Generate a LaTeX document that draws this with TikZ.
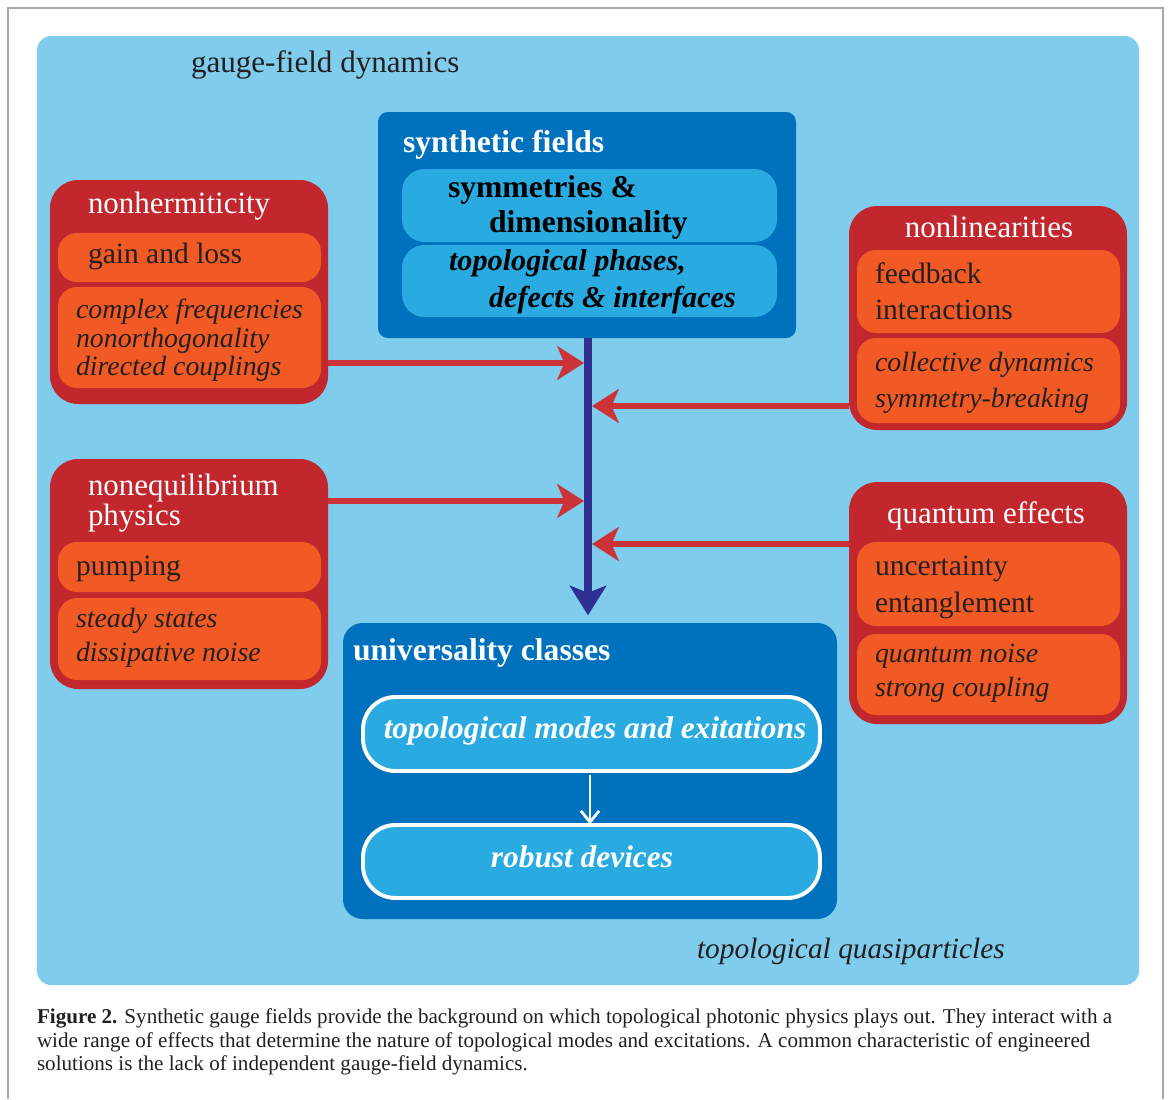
\documentclass[tikz,border=0pt]{standalone}
\usepackage{fontspec}
\setmainfont{Liberation Serif}
\usetikzlibrary{arrows.meta,fit}
\definecolor{panel}{HTML}{7FCCEC}
\definecolor{dblue}{HTML}{0071BC}
\definecolor{mblue}{HTML}{29ABE2}
\definecolor{rbox}{HTML}{C1272D}
\definecolor{obox}{HTML}{F15A24}
\definecolor{rarrow}{HTML}{CC3338}
\definecolor{navy}{HTML}{2E3192}
\definecolor{framegray}{HTML}{A8A8A8}
\definecolor{ink}{HTML}{231F20}
\begin{document}
\begin{tikzpicture}[x=0.025cm,y=-0.025cm,
  shapebox/.style={rectangle, inner sep=0pt, outer sep=0pt},
  panelbox/.style={shapebox, fill=panel, rounded corners=10pt},
  synframe/.style={shapebox, fill=dblue, rounded corners=7pt},
  ucframe/.style={shapebox, fill=dblue, rounded corners=14pt},
  synbox/.style={shapebox, fill=mblue, rounded corners=16pt},
  redbox/.style={shapebox, fill=rbox, rounded corners=20pt},
  orbox/.style={shapebox, fill=obox, rounded corners=13.5pt},
  pill/.style={shapebox, fill=mblue, draw=white, line width=2.8pt, rounded corners=23pt},
  txtbase/.style={inner sep=0pt, outer sep=0pt, anchor=base west},
  reg/.style={txtbase, text=ink, font=\fontsize{21}{25}\selectfont},
  ttl/.style={txtbase, text=white, font=\fontsize{22}{26}\selectfont},
  big/.style={txtbase, text=ink, font=\fontsize{22.1}{26}\selectfont},
  ita/.style={txtbase, text=ink, font=\fontsize{19.8}{24}\selectfont\itshape},
  bigita/.style={txtbase, text=ink, font=\fontsize{20.9}{25}\selectfont\itshape},
  bblk/.style={txtbase, text=black, font=\fontsize{22.5}{26}\selectfont\bfseries},
  biblk/.style={txtbase, text=black, font=\fontsize{21.5}{25}\selectfont\bfseries\itshape},
  bwhite/.style={bblk, text=white},
  biwhite/.style={txtbase, text=white, font=\fontsize{22.3}{26}\selectfont\bfseries\itshape},
  captxt/.style={txtbase, text=ink, font=\fontsize{15}{18}\selectfont},
  redarrow/.style={draw=rarrow, line width=4.8pt, -{Stealth[length=19pt,width=24pt,inset=5pt]}},
  navyarrow/.style={draw=navy, line width=5.7pt, -{Stealth[length=21pt,width=26pt,inset=5pt]}},
  whitearrow/.style={draw=white, line width=2pt, -{Straight Barb[length=8pt,width=13pt]}}
]
\useasboundingbox (0,0) rectangle (1168,1099);
\fill[white] (0,0) rectangle (1168,1099);
\draw[framegray, line width=1.3pt] (8,1099) -- (8,8) -- (1163,8) -- (1163,1099);

% boxes
\node[panelbox, fit={(37,36) (1139,985)}] (panel) {};
\node[synframe, fit={(378,112) (796,338)}] (syn) {};
\node[synbox, fit={(402,169) (777,242)}] (syn1) {};
\node[synbox, fit={(402,245) (777,317)}] (syn2) {};
\node[redbox, fit={(50,180) (328,404)}] (nh) {};
\node[orbox, fit={(58,233) (321,282)}] (nh1) {};
\node[orbox, fit={(58,287) (321,388)}] (nh2) {};
\node[redbox, fit={(849,206) (1127,430)}] (nl) {};
\node[orbox, fit={(857,250) (1120,333)}] (nl1) {};
\node[orbox, fit={(857,338) (1120,423)}] (nl2) {};
\node[redbox, fit={(50,459) (328,689)}] (ne) {};
\node[orbox, fit={(58,542) (321,592)}] (ne1) {};
\node[orbox, fit={(58,598) (321,680)}] (ne2) {};
\node[redbox, fit={(849,482) (1127,724)}] (qe) {};
\node[orbox, fit={(857,542) (1120,626)}] (qe1) {};
\node[orbox, fit={(857,634) (1120,715)}] (qe2) {};
\node[ucframe, fit={(343,623) (837,919)}] (uc) {};
\node[pill, fit={(363,697) (820,771)}] (uc1) {};
\node[pill, fit={(363,825) (820,898)}] (uc2) {};

% connectors
\coordinate (nx) at (588,0);
\coordinate (wx) at (590,0);
\coordinate (ja) at (584,363);
\coordinate (jb) at (592,406);
\coordinate (jc) at (584,501);
\coordinate (jd) at (592,544);
\draw[navyarrow, shorten >=5.5pt] (syn.south -| nx) -- (uc.north -| nx);
\draw[redarrow] (nh.east |- ja) -- (ja);
\draw[redarrow] (nl.west |- jb) -- (jb);
\draw[redarrow] (ne.east |- jc) -- (jc);
\draw[redarrow] (qe.west |- jd) -- (jd);
\draw[whitearrow, shorten <=2.5pt, shorten >=0.5pt] (uc1.south -| wx) -- (uc2.north -| wx);

% texts
\node[big] (tgd) at (191,72) {gauge-field dynamics};
\node[bwhite] (tsf) at (403,152) {synthetic fields};
\node[bblk] (ts1) at (448,197) {symmetries \&};
\node[bblk] (ts2) at (489,232) {dimensionality};
\node[biblk] (ts3) at (449,270) {topological phases,};
\node[biblk] (ts4) at (489,307) {defects \& interfaces};

\node[ttl] (tnh) at (88,213) {nonhermiticity};
\node[reg] (tnh1) at (88,263) {gain and loss};
\node[ita] (tnh2) at (76,318) {complex frequencies};
\node[ita] (tnh3) at (76,347) {nonorthogonality};
\node[ita] (tnh4) at (76,375) {directed couplings};

\node[ttl, anchor=base] (tnl) at (989,237) {nonlinearities};
\node[reg] (tnl1) at (875,283) {feedback};
\node[reg] (tnl2) at (875,319) {interactions};
\node[ita] (tnl3) at (875,371) {collective dynamics};
\node[ita] (tnl4) at (875,407) {symmetry-breaking};

\node[ttl] (tne) at (88,495) {nonequilibrium};
\node[ttl] (tne2) at (88,525) {physics};
\node[reg] (tne3) at (76,575) {pumping};
\node[ita] (tne4) at (76,627) {steady states};
\node[ita] (tne5) at (76,661) {dissipative noise};

\node[ttl, anchor=base] (tqe) at (986,523) {quantum effects};
\node[reg] (tqe1) at (875,575) {uncertainty};
\node[reg] (tqe2) at (875,612) {entanglement};
\node[ita] (tqe3) at (875,662) {quantum noise};
\node[ita] (tqe4) at (875,696) {strong coupling};

\node[bwhite] (tuc) at (353,660) {universality classes};
\node[biwhite, anchor=base] (tuc1) at (595,738) {topological modes and exitations};
\node[biwhite, anchor=base] (tuc2) at (582,867) {robust devices};

\node[bigita] (tqp) at (697,958) {topological quasiparticles};

\node[captxt] (c1) at (37,1023) {\textbf{Figure 2.} Synthetic gauge fields provide the background on which topological photonic physics plays out. They interact with a};
\node[captxt] (c2) at (37,1047) {wide range of effects that determine the nature of topological modes and excitations. A common characteristic of engineered};
\node[captxt] (c3) at (37,1070) {solutions is the lack of independent gauge-field dynamics.};
\end{tikzpicture}
\end{document}
